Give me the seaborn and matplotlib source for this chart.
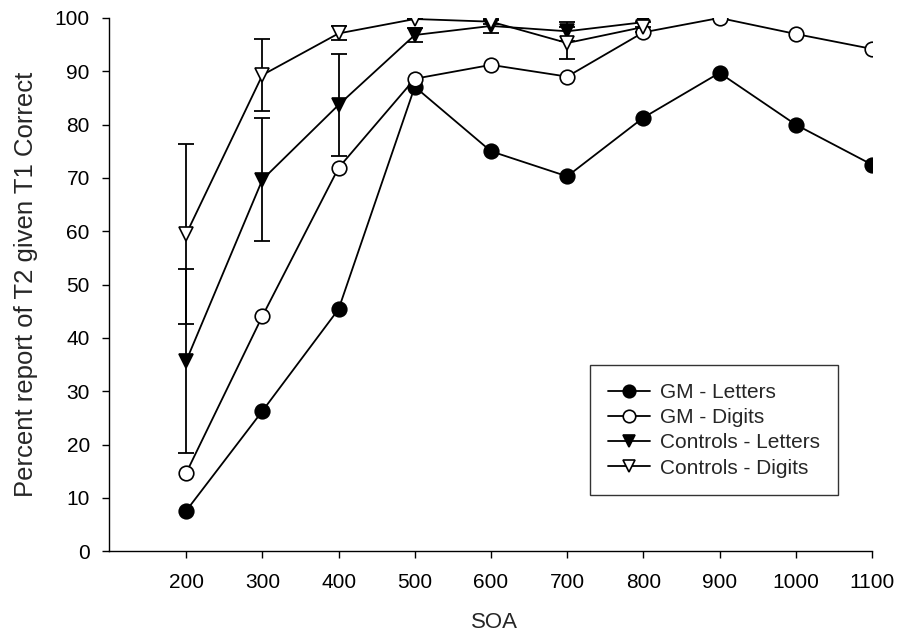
import numpy as np
import pandas as pd
import matplotlib
matplotlib.use("Agg")
import matplotlib.pyplot as plt
import seaborn as sns

soa = [200, 300, 400, 500, 600, 700, 800, 900, 1000, 1100]
gm_letters = [7.6, 26.3, 45.4, 87.1, 75.0, 70.3, 81.3, 89.7, 80.0, 72.5]
gm_digits = [14.7, 44.1, 71.9, 88.6, 91.2, 89.0, 97.3, 100.0, 97.0, 94.2]
soa_ctrl = [200, 300, 400, 500, 600, 700, 800]
ctrl_letters = [35.7, 69.7, 83.7, 96.8, 98.5, 97.5, 99.2]
ctrl_letters_err = [17.2, 11.6, 9.6, 1.4, 1.3, 1.8, 0.9]
ctrl_digits = [59.5, 89.3, 97.1, 99.8, 99.3, 95.3, 98.3]
ctrl_digits_err = [16.8, 6.7, 1.3, 0.0, 0.4, 3.0, 0.9]

sns.set_style("ticks")
plt.rcParams['font.family'] = ['Liberation Sans', 'DejaVu Sans']

fig = plt.figure(figsize=(8.97, 6.41), dpi=100)
ax = fig.add_axes([0.121, 0.140, 0.851, 0.832])

ax.errorbar(soa_ctrl, ctrl_letters, yerr=ctrl_letters_err, fmt="none",
            ecolor="black", elinewidth=1.3, capsize=6, capthick=1.3, zorder=2)
ax.errorbar(soa_ctrl, ctrl_digits, yerr=ctrl_digits_err, fmt="none",
            ecolor="black", elinewidth=1.3, capsize=6, capthick=1.3, zorder=2)

series = [
    ("GM - Letters", soa, gm_letters, "o", "black"),
    ("GM - Digits", soa, gm_digits, "o", "white"),
    ("Controls - Letters", soa_ctrl, ctrl_letters, "v", "black"),
    ("Controls - Digits", soa_ctrl, ctrl_digits, "v", "white"),
]
for name, xs, ys, m, fc in series:
    df = pd.DataFrame({"SOA": xs, "val": ys})
    sns.lineplot(data=df, x="SOA", y="val", ax=ax, color="black", lw=1.3,
                 marker=m, markersize=10.5, markerfacecolor=fc,
                 markeredgecolor="black", markeredgewidth=1.2, label=name, zorder=3)

ax.set_xlim(98, 1100)
ax.set_ylim(0, 100)
ax.set_xticks(soa)
ax.set_yticks(np.arange(0, 101, 10))
ax.tick_params(labelsize=15, direction="out", length=5, width=1, colors="black")
ax.tick_params(axis="x", pad=11)
ax.tick_params(axis="y", pad=8.5)
sns.despine(ax=ax)
for s in ["left", "bottom"]:
    ax.spines[s].set_color("black")
    ax.spines[s].set_linewidth(1)
ax.set_xlabel("SOA", fontsize=16, va="center")
ax.xaxis.set_label_coords(0.505, -0.133)
ax.set_ylabel("Percent report of T2 given T1 Correct", fontsize=18.5, va="center")
ax.yaxis.set_label_coords(-0.108, 0.5)

leg = ax.legend(loc="lower left", bbox_to_anchor=(0.631, 0.105), fontsize=15,
                frameon=True, fancybox=False, edgecolor="black", handlelength=2.0,
                handletextpad=0.5, borderpad=0.85, labelspacing=0.3,
                borderaxespad=0)
leg.get_frame().set_linewidth(1)
for h in leg.legend_handles:
    h.set_markersize(9)

fig.savefig("out.png", dpi=100, facecolor="white")
